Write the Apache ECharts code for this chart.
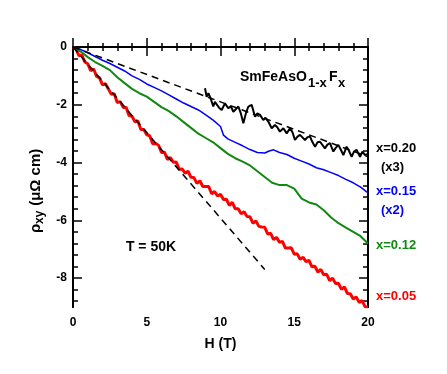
<!DOCTYPE html>
<html>
<head>
<meta charset="utf-8">
<script src="https://cdn.jsdelivr.net/npm/echarts@6/dist/echarts.min.js"></script>
<style>html,body{margin:0;padding:0;background:#fff}#c{width:447px;height:374px}</style>
</head>
<body>
<div id="c"></div>
<script>
// ---- data (H in T, rho_xy in µΩ cm) ----
const xTicks = [0, 5, 10, 15, 20];
const yTicks = [0, -2, -4, -6, -8];
const yMinorTicks = [-0.4,-0.8,-1.2,-1.6,-2.4,-2.8,-3.2,-3.6,-4.4,-4.8,-5.2,-5.6,-6.4,-6.8,-7.2,-7.6,-8.4,-8.8];

const serX020 = [[8.95,-1.43],[9.06,-1.72],[9.18,-1.6],[9.33,-1.78],[9.51,-2.06],[9.62,-1.9],[9.74,-1.95],[9.9,-2.1],[10.08,-2.18],[10.3,-1.95],[10.53,-2.12],[10.7,-2.05],[10.87,-2.24],[11.21,-2.06],[11.38,-2.3],[11.55,-2.64],[11.72,-2.3],[11.89,-2.06],[12.11,-2.0],[12.34,-2.41],[12.5,-2.3],[12.68,-2.35],[12.9,-2.53],[13.05,-2.45],[13.24,-2.58],[13.47,-2.81],[13.69,-2.7],[13.85,-2.78],[14.03,-2.93],[14.26,-2.81],[14.49,-2.99],[14.71,-2.81],[14.88,-2.95],[15.05,-3.22],[15.22,-3.1],[15.39,-3.04],[15.73,-3.22],[15.9,-3.12],[16.07,-3.1],[16.24,-3.3],[16.41,-3.45],[16.58,-3.3],[16.75,-3.28],[17.08,-3.51],[17.25,-3.38],[17.42,-3.33],[17.65,-3.62],[17.8,-3.5],[17.99,-3.39],[18.15,-3.55],[18.33,-3.74],[18.55,-3.45],[18.72,-3.6],[18.89,-3.8],[19.05,-3.62],[19.23,-3.56],[19.46,-3.8],[19.62,-3.62],[19.8,-3.74],[20.0,-3.7]];

const serX015 = [[0,0],[0.5,-0.08],[1,-0.2],[1.5,-0.33],[2,-0.46],[2.5,-0.57],[3,-0.7],[3.5,-0.83],[4,-1.0],[4.5,-1.12],[5,-1.28],[5.5,-1.4],[6,-1.52],[6.5,-1.66],[7,-1.8],[7.5,-1.94],[8,-2.06],[8.5,-2.18],[9,-2.35],[9.5,-2.53],[10,-2.75],[10.2,-3.05],[10.5,-3.18],[11,-3.3],[11.5,-3.42],[12,-3.55],[12.5,-3.65],[13,-3.67],[13.3,-3.6],[13.6,-3.56],[14,-3.65],[14.5,-3.72],[15,-3.85],[15.5,-3.95],[16,-4.05],[16.5,-4.18],[17,-4.25],[17.5,-4.35],[18,-4.45],[18.5,-4.58],[19,-4.7],[19.5,-4.85],[20,-5.05]];

const serX012 = [[0,0],[0.5,-0.15],[1,-0.35],[1.5,-0.52],[2,-0.65],[2.5,-0.8],[3,-1.05],[3.5,-1.25],[4,-1.45],[4.5,-1.6],[5,-1.72],[5.5,-1.9],[6,-2.08],[6.5,-2.22],[7,-2.4],[7.5,-2.6],[8,-2.8],[8.5,-3.0],[9,-3.15],[9.5,-3.3],[10,-3.5],[10.5,-3.7],[11,-3.85],[11.5,-3.97],[12,-4.1],[12.5,-4.3],[13,-4.5],[13.5,-4.7],[14,-4.78],[14.5,-4.78],[15,-4.9],[15.5,-5.25],[16,-5.38],[16.5,-5.45],[17,-5.65],[17.5,-5.9],[18,-6.1],[18.5,-6.25],[19,-6.4],[19.5,-6.55],[20,-6.8]];

const serX005 = [[0,0],[0.2,-0.06],[0.4,-0.30],[0.6,-0.28],[0.8,-0.52],[1.0,-0.58],[1.2,-0.82],[1.4,-0.76],[1.6,-1.02],[1.8,-1.07],[2.0,-1.31],[2.2,-1.27],[2.4,-1.45],[2.6,-1.64],[2.8,-1.62],[3.0,-1.92],[3.2,-1.89],[3.4,-2.09],[3.6,-2.09],[3.8,-2.37],[4.0,-2.40],[4.2,-2.59],[4.4,-2.56],[4.6,-2.86],[4.8,-2.86],[5.0,-3.04],[5.2,-3.07],[5.4,-3.35],[5.6,-3.34],[5.8,-3.40],[6.0,-3.65],[6.2,-3.64],[6.4,-3.89],[6.6,-3.83],[6.8,-3.99],[7.0,-3.98],[7.2,-4.23],[7.4,-4.22],[7.6,-4.37],[7.8,-4.30],[8.0,-4.51],[8.2,-4.52],[8.4,-4.72],[8.6,-4.63],[8.8,-4.83],[9.0,-4.83],[9.2,-4.83],[9.4,-5.08],[9.6,-5.00],[9.8,-5.16],[10.0,-5.10],[10.2,-5.28],[10.4,-5.27],[10.6,-5.48],[10.8,-5.38],[11.0,-5.60],[11.2,-5.60],[11.4,-5.77],[11.6,-5.70],[11.8,-5.87],[12.0,-5.88],[12.2,-6.10],[12.4,-6.02],[12.6,-6.21],[12.8,-6.23],[13.0,-6.24],[13.2,-6.47],[13.4,-6.45],[13.6,-6.67],[13.8,-6.59],[14.0,-6.76],[14.2,-6.73],[14.4,-6.96],[14.6,-6.96],[14.8,-6.95],[15.0,-7.17],[15.2,-7.16],[15.4,-7.35],[15.6,-7.28],[15.8,-7.43],[16.0,-7.39],[16.2,-7.61],[16.4,-7.59],[16.6,-7.79],[16.8,-7.70],[17.0,-7.88],[17.2,-7.87],[17.4,-8.09],[17.6,-8.00],[17.8,-8.19],[18.0,-8.18],[18.2,-8.39],[18.4,-8.30],[18.6,-8.53],[18.8,-8.54],[19.0,-8.72],[19.2,-8.65],[19.4,-8.84],[19.6,-8.78],[19.8,-8.99],[20.0,-9.0]];

const fitUpper = [[0,0],[20,-3.8]];
const fitLower = [[0,0],[13,-7.7]];

const labels = [
  {text:'x=0.20', color:'#000000', y:148},
  {text:'(x3)',   color:'#000000', y:167, dx:5},
  {text:'x=0.15', color:'#0000ff', y:191},
  {text:'(x2)',   color:'#0000ff', y:210, dx:5},
  {text:'x=0.12', color:'#118811', y:245},
  {text:'x=0.05', color:'#ff0000', y:296}
];

// ---- chart ----
const FONT = '"Liberation Sans", Arial, sans-serif';
const chart = echarts.init(document.getElementById('c'), null, {renderer:'canvas'});
const axisLine = {show:true, lineStyle:{color:'#000', width:2}};
const yCommon = {type:'value', min:-9, max:0, splitLine:{show:false}, axisLine: axisLine};
const xCommon = {type:'value', min:0, max:20, interval:5, splitLine:{show:false}, axisLine: axisLine,
  minorTick:{show:true, splitNumber:5, length:4, lineStyle:{color:'#000', width:1.5}},
  axisTick:{inside:true, length:9, lineStyle:{color:'#000', width:1.5}}};

function lineSeries(data, color, width, extra) {
  return Object.assign({type:'line', data:data, showSymbol:false, symbol:'none', silent:true,
    lineStyle:{color:color, width:width}, animation:false, z:2}, extra||{});
}

const option = {
  animation:false,
  grid:{left:73, right:79, top:47, bottom:67},
  xAxis:[
    Object.assign({}, xCommon, {position:'bottom',
      axisLabel:{show:true, color:'#000', fontFamily:FONT, fontWeight:'bold', fontSize:12, margin:10},
      name:'H (T)', nameLocation:'middle', nameGap:30,
      nameTextStyle:{color:'#000', fontFamily:FONT, fontWeight:'bold', fontSize:14}}),
    Object.assign({}, xCommon, {position:'top', axisLabel:{show:false}})
  ],
  yAxis:[
    Object.assign({}, yCommon, {position:'left',
      axisLabel:{show:true, customValues:yTicks, color:'#000', fontFamily:FONT, fontWeight:'bold', fontSize:12, margin:6},
      axisTick:{show:true, inside:true, customValues:yTicks, length:9, lineStyle:{color:'#000', width:1.5}}}),
    Object.assign({}, yCommon, {position:'left', axisLabel:{show:false},
      axisTick:{show:true, inside:true, customValues:yMinorTicks, length:5, lineStyle:{color:'#000', width:1.5}}}),
    Object.assign({}, yCommon, {position:'right', axisLabel:{show:false},
      axisTick:{show:true, inside:true, customValues:yTicks, length:9, lineStyle:{color:'#000', width:1.5}}}),
    Object.assign({}, yCommon, {position:'right', axisLabel:{show:false},
      axisTick:{show:true, inside:true, customValues:yMinorTicks, length:5, lineStyle:{color:'#000', width:1.5}}})
  ],
  series:[
    lineSeries(serX005, '#ff0000', 3),
    lineSeries(serX012, '#118811', 2),
    lineSeries(serX015, '#0000ff', 1.5),
    lineSeries(serX020, '#000000', 2),
    lineSeries(fitUpper, '#000000', 1.5, {lineStyle:{color:'#000', width:1.5, type:[7,5]}, z:3}),
    lineSeries(fitLower, '#000000', 1.5, {lineStyle:{color:'#000', width:1.5, type:[7,5]}, z:3})
  ],
  graphic: []
};

const g = option.graphic;
function txt(s, x, y, size, extra) {
  g.push(Object.assign({type:'text', x:x, y:y, style:{text:s, fill:'#000',
    font:'bold ' + size + 'px ' + FONT, align:'left', verticalAlign:'middle'}}, extra||{}));
}
labels.forEach(function(l){
  g.push({type:'text', x:376 + (l.dx||0), y:l.y, style:{text:l.text, fill:l.color,
    font:'bold 13px ' + FONT, align:'left', verticalAlign:'middle'}});
});
// compound title with subscripts
txt('SmFeAsO', 240, 77, 14);
txt('1-x', 308, 83, 13);
txt('F', 329, 77, 14);
txt('x', 338, 83, 13);
g.push({type:'text', x:151, y:247, style:{text:'T = 50K', fill:'#000', font:'bold 14px ' + FONT,
  align:'center', verticalAlign:'middle'}});
// y axis name (rotated, reading upward)
txt('\u03c1', 36, 233, 15, {rotation:Math.PI/2});
txt('xy', 40, 224, 12, {rotation:Math.PI/2});
txt(' (\u03bc\u03a9 cm)', 36, 210, 15, {rotation:Math.PI/2});

chart.setOption(option);
</script>
</body>
</html>
